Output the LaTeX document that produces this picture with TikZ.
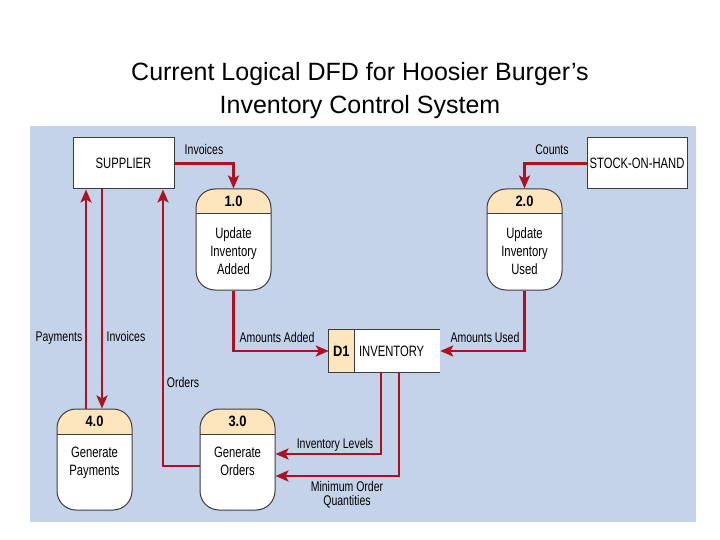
\documentclass[tikz,border=0pt]{standalone}
\usepackage{fontspec}
\setmainfont{Liberation Sans}
\newfontfamily\dfd{Liberation Sans}[FakeStretch=0.75]
\newfontfamily\dfdnum{Liberation Sans}[FakeStretch=0.86]
\usetikzlibrary{arrows.meta,calc}
\definecolor{dfdblue}{RGB}{197,211,234}
\definecolor{dfdpeach}{RGB}{253,229,190}
\definecolor{dfdred}{RGB}{172,18,32}
\definecolor{dfdgray}{RGB}{60,60,60}
\tikzset{
  title/.style={font=\fontsize{25}{30}\selectfont,inner sep=0pt,anchor=base},
  entity/.style={draw=dfdgray,line width=1pt,fill=white,minimum width=101pt,
    minimum height=51pt,inner sep=0pt,font=\dfd\fontsize{15}{18}\selectfont},
  process/.style={draw=dfdgray,line width=1pt,fill=white,rounded corners=19pt,
    minimum width=75pt,minimum height=101pt,inner sep=0pt,
    path picture={
      \fill[dfdpeach,sharp corners] (path picture bounding box.north west) rectangle
        ([yshift=-25pt]path picture bounding box.north east);
      \draw[dfdgray,line width=1pt,sharp corners] ([yshift=-25pt]path picture bounding box.north west)
        -- ([yshift=-25pt]path picture bounding box.north east);}},
  store/.style={fill=white,minimum width=111pt,minimum height=42pt,inner sep=0pt,
    path picture={
      \fill[dfdpeach] (path picture bounding box.north west) rectangle
        ([xshift=25pt]path picture bounding box.south west);
      \draw[dfdgray,line width=1pt] ([xshift=25pt]path picture bounding box.north west)
        -- ([xshift=25pt]path picture bounding box.south west);}},
  border/.style={draw=dfdgray,line width=1pt},
  pnum/.style={font=\dfdnum\bfseries\fontsize{15}{18}\selectfont,inner sep=0pt},
  pname/.style={font=\dfd\fontsize{15}{18}\selectfont,align=center,inner sep=0pt,anchor=north},
  flow/.style={draw=dfdred,line width=2.5pt,-{Stealth[length=13pt,width=11pt,inset=3pt]}},
  flowlabel/.style={font=\dfd\fontsize{14}{14}\selectfont,inner sep=0pt,align=center,anchor=base}
}
\begin{document}
\begin{tikzpicture}[x=1pt,y=-1pt]
  \useasboundingbox[fill=white] (0,0) rectangle (720,540);
  \fill[dfdblue] (30,126) rectangle (696,522);

  % title
  \node[title] (title1) at (360,81) {Current Logical DFD for Hoosier Burger’s};
  \node[title] (title2) at (360,114) {Inventory Control System};

  % external entities
  \node[entity] (supplier) at (123.5,163.5) {SUPPLIER};
  \node[entity,minimum width=100pt] (stock) at (637,163.5) {STOCK-ON-HAND};

  % processes
  \node[process] (p1) at (233.5,239.5) {};
  \node[pnum] at ([yshift=-13pt]p1.north) {1.0};
  \node[pname] at ([yshift=-38.5pt]p1.north) {Update\\Inventory\\Added};
  \node[process] (p2) at (524.5,239.5) {};
  \node[pnum] at ([yshift=-13pt]p2.north) {2.0};
  \node[pname] at ([yshift=-38.5pt]p2.north) {Update\\Inventory\\Used};
  \node[process] (p3) at (237.5,459.5) {};
  \node[pnum] at ([yshift=-13pt]p3.north) {3.0};
  \node[pname] at ([yshift=-38.5pt]p3.north) {Generate\\Orders};
  \node[process] (p4) at (94.5,459.5) {};
  \node[pnum] at ([yshift=-13pt]p4.north) {4.0};
  \node[pname] at ([yshift=-38.5pt]p4.north) {Generate\\Payments};

  % data store
  \node[store] (d1) at (384.5,351) {};
  \draw[border] (d1.north east) -- (d1.north west) -- (d1.south west) -- (d1.south east);
  \node[pnum] at ([xshift=12.5pt]d1.west) {D1};
  \node[pname,anchor=west] at ([xshift=30pt]d1.west) {INVENTORY};

  % data flows
  \draw[flow] (supplier.east) -| (p1.north);
  \draw[flow] (stock.west) -| (p2.north);
  \draw[flow] ([xshift=-8.5pt]p4.north) -- ([xshift=-8.5pt]p4.north |- supplier.south);
  \draw[flow] ([xshift=-21.5pt]supplier.south) -- ([xshift=-21.5pt]supplier.south |- p4.north);
  \draw[flow] ([yshift=-6.5pt]p3.west) -| ([xshift=39.5pt]supplier.south);
  \draw[flow] (p1.south) |- (d1.west);
  \draw[flow] (p2.south) |- (d1.east);
  \draw[flow] ([xshift=-3.5pt]d1.south) |- ([yshift=5.5pt]p3.east);
  \draw[flow] ([xshift=14.5pt]d1.south) |- ([yshift=-16.5pt]p3.east);

  % flow labels
  \node[flowlabel] (linv1) at (204,155) {Invoices};
  \node[flowlabel] (lcounts) at (552,155) {Counts};
  \node[flowlabel] (lpay) at (59,341) {Payments};
  \node[flowlabel] (linv2) at (126,341) {Invoices};
  \node[flowlabel] (lorders) at (183,387) {Orders};
  \node[flowlabel] (ladded) at (277,342) {Amounts Added};
  \node[flowlabel] (lused) at (485,342) {Amounts Used};
  \node[flowlabel] (llevels) at (335,448) {Inventory Levels};
  \node[flowlabel,anchor=center] (lmin) at (347,495) {Minimum Order\\Quantities};
\end{tikzpicture}
\end{document}
